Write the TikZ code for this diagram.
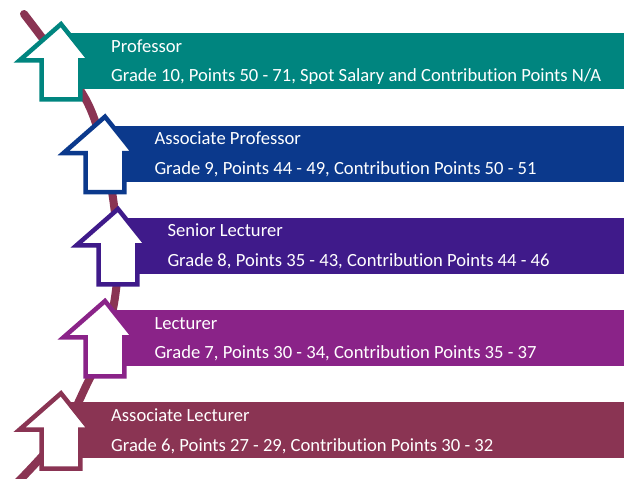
\documentclass[tikz,border=0pt]{standalone}
\usepackage{fontspec}
\setmainfont{Carlito}[RawFeature=-liga]
\definecolor{gradeteal}{HTML}{00857F}
\definecolor{gradeblue}{HTML}{0B398C}
\definecolor{gradeindigo}{HTML}{3F1A8A}
\definecolor{gradeviolet}{HTML}{8A2388}
\definecolor{grademaroon}{HTML}{8A3453}
\tikzset{
  band/.style={fill=#1, draw=none},
  title/.style={anchor=base west, inner sep=0pt, text=white, font=\fontsize{18.6}{22}\selectfont},
  pics/gradearrow/.style={code={
    \draw[line width=4.5pt, line join=miter, miter limit=10, fill=white, draw=#1]
      (0,3.4) -- (29,39.75) -- (19.45,39.75) -- (19.45,78.75)
      -- (-19.45,78.75) -- (-19.45,39.75) -- (-41.5,39.75) -- cycle;
  }},
  ladder/.style={draw=grademaroon, line width=8pt, line cap=round},
}
\begin{document}
\begin{tikzpicture}[x=1pt,y=-1pt]
\useasboundingbox (0,0) rectangle (624,479);
\clip (0,0) rectangle (624,479);

% the winding career path behind the grades
\draw[ladder] plot[smooth, tension=0.6] coordinates
  {(24,14) (60,62) (90,108) (108,170) (117,235) (116,290) (104,345) (87,384) (60,435) (12,488)};

% coloured bands, one per grade
\fill[band=gradeteal]   (61,33)    rectangle (624,89);
\fill[band=gradeblue]   (105,125.5) rectangle (624,181.5);
\fill[band=gradeindigo] (118,217.8) rectangle (624,273.8);
\fill[band=gradeviolet] (105,310)  rectangle (624,366);
\fill[band=grademaroon] (61,402.3) rectangle (624,458.3);

% upward arrows
\pic at (61,20.7)   {gradearrow=gradeteal};
\pic at (105,113.3) {gradearrow=gradeblue};
\pic at (118,205.6) {gradearrow=gradeindigo};
\pic at (105,297.6) {gradearrow=gradeviolet};
\pic at (61,389.9)  {gradearrow=grademaroon};

% grade titles and details
\node[title] (prof)  at (111,52)     {Professor};
\node[title] (profd) at (111,81.7)   {Grade 10, Points 50 - 71, Spot Salary and Contribution Points N/A};
\node[title] (ap)    at (154.3,144.5) {Associate Professor};
\node[title] (apd)   at (154.3,174.2) {Grade 9, Points 44 - 49, Contribution Points 50 - 51};
\node[title] (sl)    at (167.3,236.8) {Senior Lecturer};
\node[title] (sld)   at (167.3,266.5) {Grade 8, Points 35 - 43, Contribution Points 44 - 46};
\node[title] (lec)   at (154.3,329)  {Lecturer};
\node[title] (lecd)  at (154.3,358.7) {Grade 7, Points 30 - 34, Contribution Points 35 - 37};
\node[title] (al)    at (111,421.3)  {Associate Lecturer};
\node[title] (ald)   at (111,451)    {Grade 6, Points 27 - 29, Contribution Points 30 - 32};
\end{tikzpicture}
\end{document}
